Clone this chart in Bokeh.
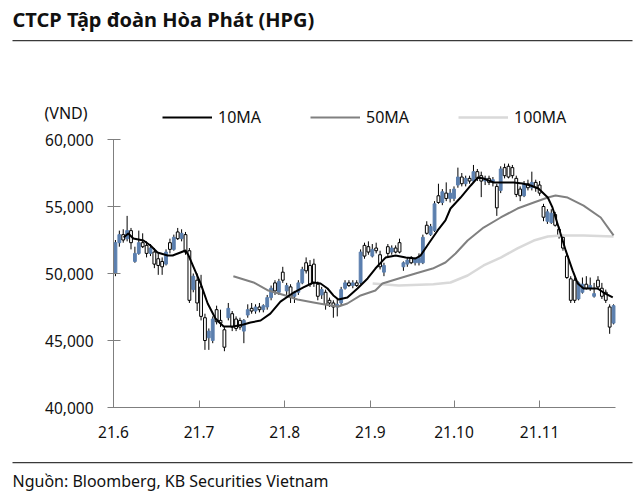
from bokeh.plotting import figure
from bokeh.models import (FixedTicker, NumeralTickFormatter, Label, Legend,
                          LegendItem, BoxAnnotation, Range1d)
from bokeh.embed import file_html
from bokeh.resources import INLINE

# ---------------- data (VND, daily, 21.6 - 21.11) ----------------
opens = [50000, 52300, 52900, 52600, 53200, 50900, 51500, 52300, 52100, 51500,
         51600, 51100, 50900, 50700, 52300, 51800, 53100, 52600, 52900, 51700,
         48800, 49500, 49000, 46700, 45200, 45000, 47300, 46500, 45800, 46700,
         47000, 46600, 46500, 45700, 46900, 47400, 47200, 47500, 47300, 47500,
         48200, 49300, 48600, 50100, 48700, 49000, 48300, 48600, 49300, 50800,
         50600, 50700, 49200, 48400, 48600, 48000, 47800, 47500, 47800, 48900,
         49300, 49100, 49300, 49300, 52100, 52000, 51300, 51900, 51400, 50100,
         52000, 51600, 51900, 52300, 50500, 50700, 51200, 50800, 50800, 50800,
         53600, 52900, 53200, 55800, 55300, 56000, 55600, 55600, 56600, 57200,
         56700, 57100, 56900, 57600, 57300, 56900, 57100, 56800, 56500, 56200,
         57900, 58000, 57900, 57100, 56300, 55800, 56700, 56400, 56800, 56600,
         55000, 53900, 53800, 54400, 53300, 52700, 51300, 49600, 49500, 48100,
         48600, 49200, 48900, 48300, 49500, 48900, 48600, 47500, 46300]
highs = [52500, 53200, 53300, 54300, 53400, 52000, 53200, 53000, 52400, 52200,
         51900, 51500, 51200, 51800, 52600, 52900, 53400, 53300, 53100, 51900,
         50000, 50000, 49900, 47000, 45900, 46800, 47600, 47300, 46000, 47800,
         47200, 46800, 46700, 46600, 47700, 47800, 47700, 47800, 47700, 48400,
         49100, 49500, 49600, 50500, 49300, 49200, 48700, 49500, 50500, 51200,
         51000, 51100, 49400, 49000, 48800, 48200, 48000, 48100, 49000, 49500,
         49500, 49500, 49500, 51800, 52300, 52400, 52200, 52300, 51700, 50800,
         52200, 52100, 52100, 52600, 50900, 51200, 51300, 51200, 51500, 52900,
         53900, 53700, 55400, 56700, 56300, 56800, 56300, 56500, 57900, 57500,
         57300, 57300, 58100, 57800, 57600, 57300, 57300, 57200, 56700, 58000,
         58200, 58200, 58100, 57300, 56500, 56900, 57000, 57600, 57000, 56900,
         55200, 54800, 54800, 54600, 53500, 52900, 51500, 49800, 49700, 49400,
         49700, 49800, 49700, 49300, 49800, 49300, 48800, 47700, 47700]
lows = [49800, 52000, 52300, 52400, 51800, 50800, 51400, 51900, 51200, 51300,
        50400, 49900, 49900, 50600, 51500, 51700, 52500, 52400, 51400, 47800,
        48600, 47200, 46500, 44300, 44300, 44800, 46200, 46000, 44200, 46500,
        45700, 45700, 45800, 44800, 46700, 47000, 47000, 47100, 47100, 47300,
        48000, 48400, 48400, 49300, 48400, 47800, 47800, 48400, 49200, 50000,
        49000, 49000, 48000, 48100, 47300, 47500, 46700, 46800, 47600, 48800,
        49000, 48900, 49000, 49200, 51100, 51400, 51200, 51500, 50300, 49800,
        51300, 51400, 51500, 51500, 50200, 50500, 50700, 50600, 50600, 50700,
        52900, 52800, 53100, 55200, 55100, 55400, 55300, 55400, 56400, 56500,
        56500, 56700, 56800, 56900, 55700, 56600, 56600, 56500, 54300, 56000,
        57100, 57100, 57100, 55700, 55400, 55700, 56200, 56200, 56100, 55800,
        53900, 53700, 53700, 53500, 52600, 51700, 49600, 47800, 47800, 48000,
        48500, 48800, 48700, 48200, 48800, 48100, 47800, 45500, 46200]
closes = [52300, 52900, 52500, 53200, 52300, 51500, 52300, 52000, 51500, 51900,
          50700, 50600, 50500, 51600, 51800, 52700, 52600, 53000, 51600, 48000,
          49800, 47800, 46800, 45000, 45700, 46600, 46400, 46300, 44500, 47400,
          46000, 45900, 46000, 46500, 47300, 47200, 47500, 47300, 47600, 48200,
          48900, 48700, 49400, 49500, 49100, 48200, 48600, 49300, 50300, 50200,
          49200, 49300, 48300, 48800, 47700, 47800, 47500, 47700, 48800, 49300,
          49100, 49300, 49100, 51600, 51300, 51600, 51800, 51700, 50500, 50600,
          51500, 51900, 51600, 51600, 50800, 51000, 50800, 51100, 51200, 52700,
          53000, 53500, 55200, 55300, 56100, 55600, 56000, 56300, 57200, 56700,
          57100, 56900, 57600, 57100, 56900, 57100, 56800, 57000, 54900, 57800,
          57300, 57200, 57300, 55900, 55800, 56700, 56400, 56800, 56400, 56000,
          54200, 54600, 54500, 53600, 52800, 51900, 49700, 48000, 48000, 49300,
          49200, 48900, 49100, 48500, 49000, 48300, 48000, 46000, 47600]
days = list(range(len(closes)))

# moving averages (trading-day index, VND)
ma10_day = [2.1, 3.3, 4.6, 7.2, 9.0, 10.8, 13.4, 14.7, 16.7, 18.0, 18.8, 20.1, 21.9,
            23.7, 25.7, 27.8, 30.3, 32.9, 34.7, 37.3, 39.8, 42.4, 45.8, 48.3, 50.9,
            52.7, 54.5, 56.0, 57.3, 59.6, 62.2, 64.8, 66.8, 69.4, 72.0, 74.6, 77.1,
            78.4, 80.5, 82.8, 84.8, 86.1, 88.7, 91.3, 93.1, 94.6, 97.2, 99.7, 102.3,
            104.6, 106.7, 108.7, 111.1, 112.3, 113.9, 115.7, 117.5, 118.8, 120.3,
            122.1, 123.9, 125.4, 127.8]
ma10_val = [52690, 52990, 52610, 52460, 52090, 51570, 51340, 51340, 51570, 51720,
            51340, 50450, 49250, 47760, 46640, 46050, 46050, 46190, 46340, 46490,
            47010, 47900, 48580, 48960, 49330, 49250, 48880, 48360, 48060, 48210,
            48880, 49630, 50370, 51190, 51340, 51190, 51120, 51340, 52240, 53210,
            53960, 54850, 55670, 56570, 57160, 57090, 56790, 56790, 56790, 56720,
            56570, 56340, 55670, 54930, 53430, 51720, 50220, 49250, 48880, 48880,
            48880, 48580, 48210]
ma50_day = [30.3, 35.5, 39.3, 43.7, 46.8, 50.9, 55.3, 57.3, 59.6, 63.0, 66.8, 68.6,
            72.8, 77.1, 81.5, 84.8, 87.4, 90.5, 94.6, 99.0, 103.3, 107.5, 111.1,
            113.1, 116.2, 120.3, 124.7, 128.0]
ma50_val = [49800, 49330, 48730, 48360, 48060, 47840, 47610, 47540, 47760, 48360,
            48730, 49250, 49630, 50000, 50370, 50820, 51490, 52460, 53430, 54180,
            54850, 55300, 55670, 55820, 55670, 55070, 54180, 52840]
ma100_day = [66.1, 72.8, 81.7, 86.1, 90.5, 94.6, 99.0, 103.3, 107.5, 111.1, 114.4,
             120.3, 128.0]
ma100_val = [49250, 49100, 49200, 49330, 49850, 50600, 51190, 51870, 52460, 52760,
             52840, 52840, 52760]

month_ticks = [-0.5, 21.5, 43.5, 65.5, 87, 109]
month_labels = ["21.6", "21.7", "21.8", "21.9", "21.10", "21.11"]
price_ticks = [40000, 45000, 50000, 55000, 60000]

title_text = "CTCP Tập đoàn Hòa Phát (HPG)"
unit_text = "(VND)"
source_text = "Nguồn: Bloomberg, KB Securities Vietnam"

# ---------------- layout ----------------
W, H = 640, 497
X0, X1 = -0.5, 128.5          # plotted day span
Y0, Y1 = 40000, 60000         # plotted price span
PX_L, PX_R = 113, 615         # pixel positions of X0, X1
PX_T, PX_B = 139, 407         # pixel positions of Y1, Y0
FONT = "Noto Sans"
BLUE = "#5b7fae"
AXIS = "#7f7f7f"
TXT = "#111111"

kx = (PX_R - PX_L) / (X1 - X0)
ky = (PX_B - PX_T) / (Y1 - Y0)

def xd(px):
    return X0 + (px - PX_L) / kx

def yd(py):
    return Y1 - (py - PX_T) / ky

p = figure(width=W, height=H, output_backend="svg", toolbar_location=None,
           x_range=Range1d(xd(0), xd(W)), y_range=Range1d(yd(H), yd(0)),
           min_border=0)
p.outline_line_color = None
p.grid.visible = False
p.background_fill_color = "white"
p.border_fill_color = "white"

# candles
p.segment(x0=days, y0=lows, x1=days, y1=highs, line_color="black", line_width=1)
up_d = [d for d in days if closes[d] >= opens[d]]
dn_d = [d for d in days if closes[d] < opens[d]]
p.vbar(x=up_d, width=0.72, bottom=[opens[d] for d in up_d], top=[closes[d] for d in up_d],
       fill_color=BLUE, line_color=BLUE, line_width=1)
p.vbar(x=dn_d, width=0.72, bottom=[closes[d] for d in dn_d], top=[opens[d] for d in dn_d],
       fill_color="white", line_color="black", line_width=1)

# moving averages
r100 = p.line(ma100_day, ma100_val, line_color="#d9d9d9", line_width=2.5, line_join="round")
r50 = p.line(ma50_day, ma50_val, line_color="#808080", line_width=2, line_join="round")
r10 = p.line(ma10_day, ma10_val, line_color="black", line_width=2, line_join="round")

# legend: location is the legend's bottom-left corner, from the frame's bottom-left
legend = Legend(items=[LegendItem(label="10MA", renderers=[r10]),
                       LegendItem(label="50MA", renderers=[r50]),
                       LegendItem(label="100MA", renderers=[r100])],
                orientation="horizontal", location=(162, H - 128),
                glyph_width=50, glyph_height=20, label_height=20,
                label_standoff=6, spacing=49, padding=0, margin=0,
                border_line_color=None, background_fill_alpha=0,
                label_text_font=FONT, label_text_font_size="16px",
                label_text_color=TXT)
p.add_layout(legend)

# axes (fixed at the data origin, lines limited to the plotted span)
yax = p.yaxis[0]
yax.fixed_location = X0
yax.bounds = (Y0, Y1)
yax.ticker = FixedTicker(ticks=price_ticks)
yax.formatter = NumeralTickFormatter(format="0,0")
yax.axis_line_color = AXIS
yax.major_tick_line_color = AXIS
yax.major_tick_in = 7
yax.major_tick_out = 6
yax.minor_tick_line_color = None
yax.major_label_standoff = 14
yax.major_label_text_font = FONT
yax.major_label_text_font_size = "15.5px"
yax.major_label_text_color = TXT

xax = p.xaxis[0]
xax.fixed_location = Y0
xax.bounds = (X0, X1)
xax.ticker = FixedTicker(ticks=month_ticks)
xax.major_label_overrides = dict(zip(month_ticks, month_labels))
xax.axis_line_color = AXIS
xax.major_tick_line_color = AXIS
xax.major_tick_in = 7
xax.major_tick_out = 0
xax.minor_tick_line_color = None
xax.major_label_standoff = 18
xax.major_label_text_font = FONT
xax.major_label_text_font_size = "15.5px"
xax.major_label_text_color = TXT

# texts
p.add_layout(Label(x=xd(12), y=yd(19), text=title_text, text_font=FONT,
                   text_font_size="20px", text_font_style="bold", text_color=TXT,
                   text_baseline="middle", text_align="left"))
p.add_layout(Label(x=xd(44), y=yd(112), text=unit_text, text_font=FONT,
                   text_font_size="16px", text_color=TXT,
                   text_baseline="middle", text_align="left"))
p.add_layout(Label(x=xd(12), y=yd(480), text=source_text, text_font=FONT,
                   text_font_size="16px", text_color=TXT,
                   text_baseline="middle", text_align="left"))

# horizontal rules under the title and above the source
p.add_layout(BoxAnnotation(left=xd(12), right=xd(632), top=yd(39.5), bottom=yd(40.7),
                           fill_color="#3a3a3a", fill_alpha=1, line_color=None))
p.add_layout(BoxAnnotation(left=xd(12), right=xd(632), top=yd(461.5), bottom=yd(462.7),
                           fill_color="#3a3a3a", fill_alpha=1, line_color=None))

open("out.html", "w").write(file_html(p, INLINE))
